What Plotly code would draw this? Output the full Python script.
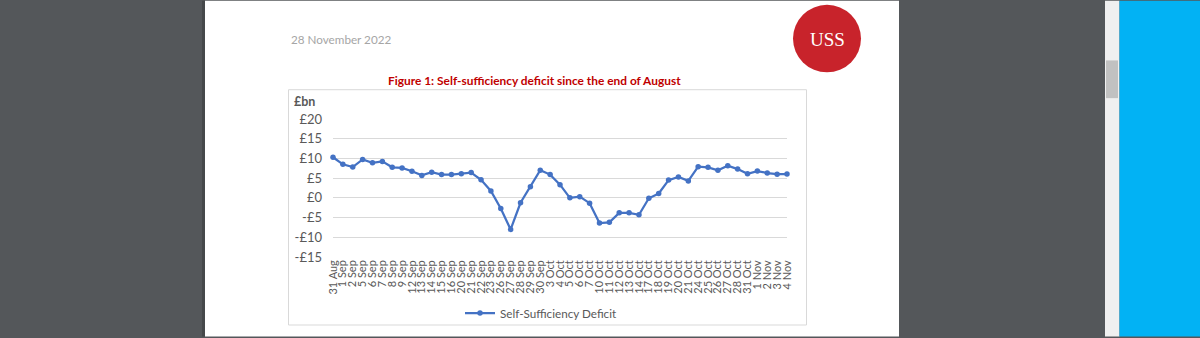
import plotly.graph_objects as go

categories = ["31 Aug", "1 Sep", "2 Sep", "5 Sep", "6 Sep", "7 Sep", "8 Sep", "9 Sep",
              "12 Sep", "13 Sep", "14 Sep", "15 Sep", "16 Sep", "20 Sep", "21 Sep", "22 Sep",
              "23 Sep", "26 Sep", "27 Sep", "28 Sep", "29 Sep", "30 Sep", "3 Oct", "4 Oct",
              "5 Oct", "6 Oct", "7 Oct", "10 Oct", "11 Oct", "12 Oct", "13 Oct", "14 Oct",
              "17 Oct", "18 Oct", "19 Oct", "20 Oct", "21 Oct", "24 Oct", "25 Oct", "26 Oct",
              "27 Oct", "28 Oct", "31 Oct", "1 Nov", "2 Nov", "3 Nov", "4 Nov"]
deficit = [10.3, 8.5, 7.8, 9.75, 8.9, 9.25, 7.75, 7.6, 6.75, 5.7, 6.5, 5.9, 5.9, 6.1, 6.4,
           4.6, 1.75, -2.7, -8.0, -1.25, 2.8, 7.0, 5.9, 3.35, 0.0, 0.3, -1.35, -6.4, -6.2,
           -3.8, -3.8, -4.3, -0.1, 1.1, 4.5, 5.3, 4.3, 7.9, 7.75, 7.0, 8.15, 7.3, 6.1, 6.8,
           6.3, 6.0, 6.05]
y_ticks = [-15, -10, -5, 0, 5, 10, 15, 20]
y_tick_labels = ["-£15", "-£10", "-£5", "£0", "£5", "£10", "£15", "£20"]

W, H = 1200, 338
L, R, T, B = 333, 787, 119, 258
ML, MR, MT, MB = L, W - R, T, H - B


def px(x):
    return (x - L) / (R - L)


def py(y):
    return (B - y) / (B - T)


FONT = "Lato, 'Open Sans', sans-serif"
idx = list(range(len(categories)))

fig = go.Figure()
fig.add_trace(go.Scatter(
    x=idx, y=deficit, mode="lines+markers", name="Self-Sufficiency Deficit",
    line=dict(color="#4472c4", width=2.25),
    marker=dict(color="#4472c4", size=5.5, symbol="circle"),
    cliponaxis=False,
))

shapes = []
# page background
shapes.append(dict(type="rect", xref="paper", yref="paper", x0=px(205), x1=px(899),
                   y0=py(0), y1=py(H), fillcolor="white", line=dict(width=0), layer="below"))
# left dark edge line
shapes.append(dict(type="rect", xref="paper", yref="paper", x0=px(202), x1=px(205),
                   y0=py(0), y1=py(H), fillcolor="#45484a", line=dict(width=0), layer="below"))
# scrollbar track
shapes.append(dict(type="rect", xref="paper", yref="paper", x0=px(1105), x1=px(1119.5),
                   y0=py(0), y1=py(H), fillcolor="#f0f0f0", line=dict(width=0), layer="below"))
# scrollbar thumb
shapes.append(dict(type="rect", xref="paper", yref="paper", x0=px(1106), x1=px(1118),
                   y0=py(60), y1=py(98), fillcolor="#c1c1c1", line=dict(width=0), layer="below"))
# blue area
shapes.append(dict(type="rect", xref="paper", yref="paper", x0=px(1119.5), x1=px(W),
                   y0=py(0), y1=py(H), fillcolor="#02b2f4", line=dict(width=0), layer="below"))
# chart box
shapes.append(dict(type="rect", xref="paper", yref="paper", x0=px(288.5), x1=px(806.5),
                   y0=py(89.5), y1=py(326.5), fillcolor="rgba(0,0,0,0)",
                   line=dict(color="#d9d9d9", width=1), layer="below"))
# USS logo circle
shapes.append(dict(type="circle", xref="paper", yref="paper", x0=px(793), x1=px(861),
                   y0=py(4), y1=py(72), fillcolor="#c8232b", line=dict(width=0), layer="below"))

annotations = [
    dict(text="28 November 2022", x=px(289), y=py(38), xref="paper", yref="paper",
         xanchor="left", yanchor="middle", showarrow=False,
         font=dict(family=FONT, size=11.7, color="#a6a6a6")),
    dict(text="USS", x=px(827), y=py(39), xref="paper", yref="paper",
         xanchor="center", yanchor="middle", showarrow=False,
         font=dict(family="'Liberation Serif', 'DejaVu Serif', serif", size=19, color="white")),
    dict(text="<b>Figure 1: Self-sufficiency deficit since the end of August</b>",
         x=px(534), y=py(80), xref="paper", yref="paper",
         xanchor="center", yanchor="middle", showarrow=False,
         font=dict(family=FONT, size=11.9, color="#c00000")),
    dict(text="<b>£bn</b>", x=px(292), y=py(101), xref="paper", yref="paper",
         xanchor="left", yanchor="middle", showarrow=False,
         font=dict(family=FONT, size=12.5, color="#595959")),
]

fig.update_layout(
    width=W, height=H,
    margin=dict(l=ML, r=MR, t=MT, b=MB, pad=0),
    paper_bgcolor="#54575a", plot_bgcolor="white",
    shapes=shapes, annotations=annotations,
    showlegend=True,
    legend=dict(orientation="h", x=px(541), y=py(313), xanchor="center", yanchor="middle",
                font=dict(family=FONT, size=11.7, color="#595959"),
                bgcolor="rgba(0,0,0,0)", itemwidth=30),
    font=dict(family=FONT),
)
fig.update_xaxes(
    range=[0, len(categories) - 1], tickmode="array", tickvals=idx, ticktext=categories,
    tickangle=-90, showgrid=False, zeroline=False, showline=False, ticks="",
    tickfont=dict(family=FONT, size=11, color="#595959"), fixedrange=True,
)
fig.update_yaxes(
    range=[-15, 20], tickmode="array", tickvals=y_ticks, ticktext=y_tick_labels,
    showgrid=True, gridcolor="#d9d9d9", gridwidth=1, zeroline=False, showline=False,
    ticks="", ticklabelstandoff=10,
    tickfont=dict(family=FONT, size=13, color="#595959"), fixedrange=True,
)

fig.write_html("out.html")
